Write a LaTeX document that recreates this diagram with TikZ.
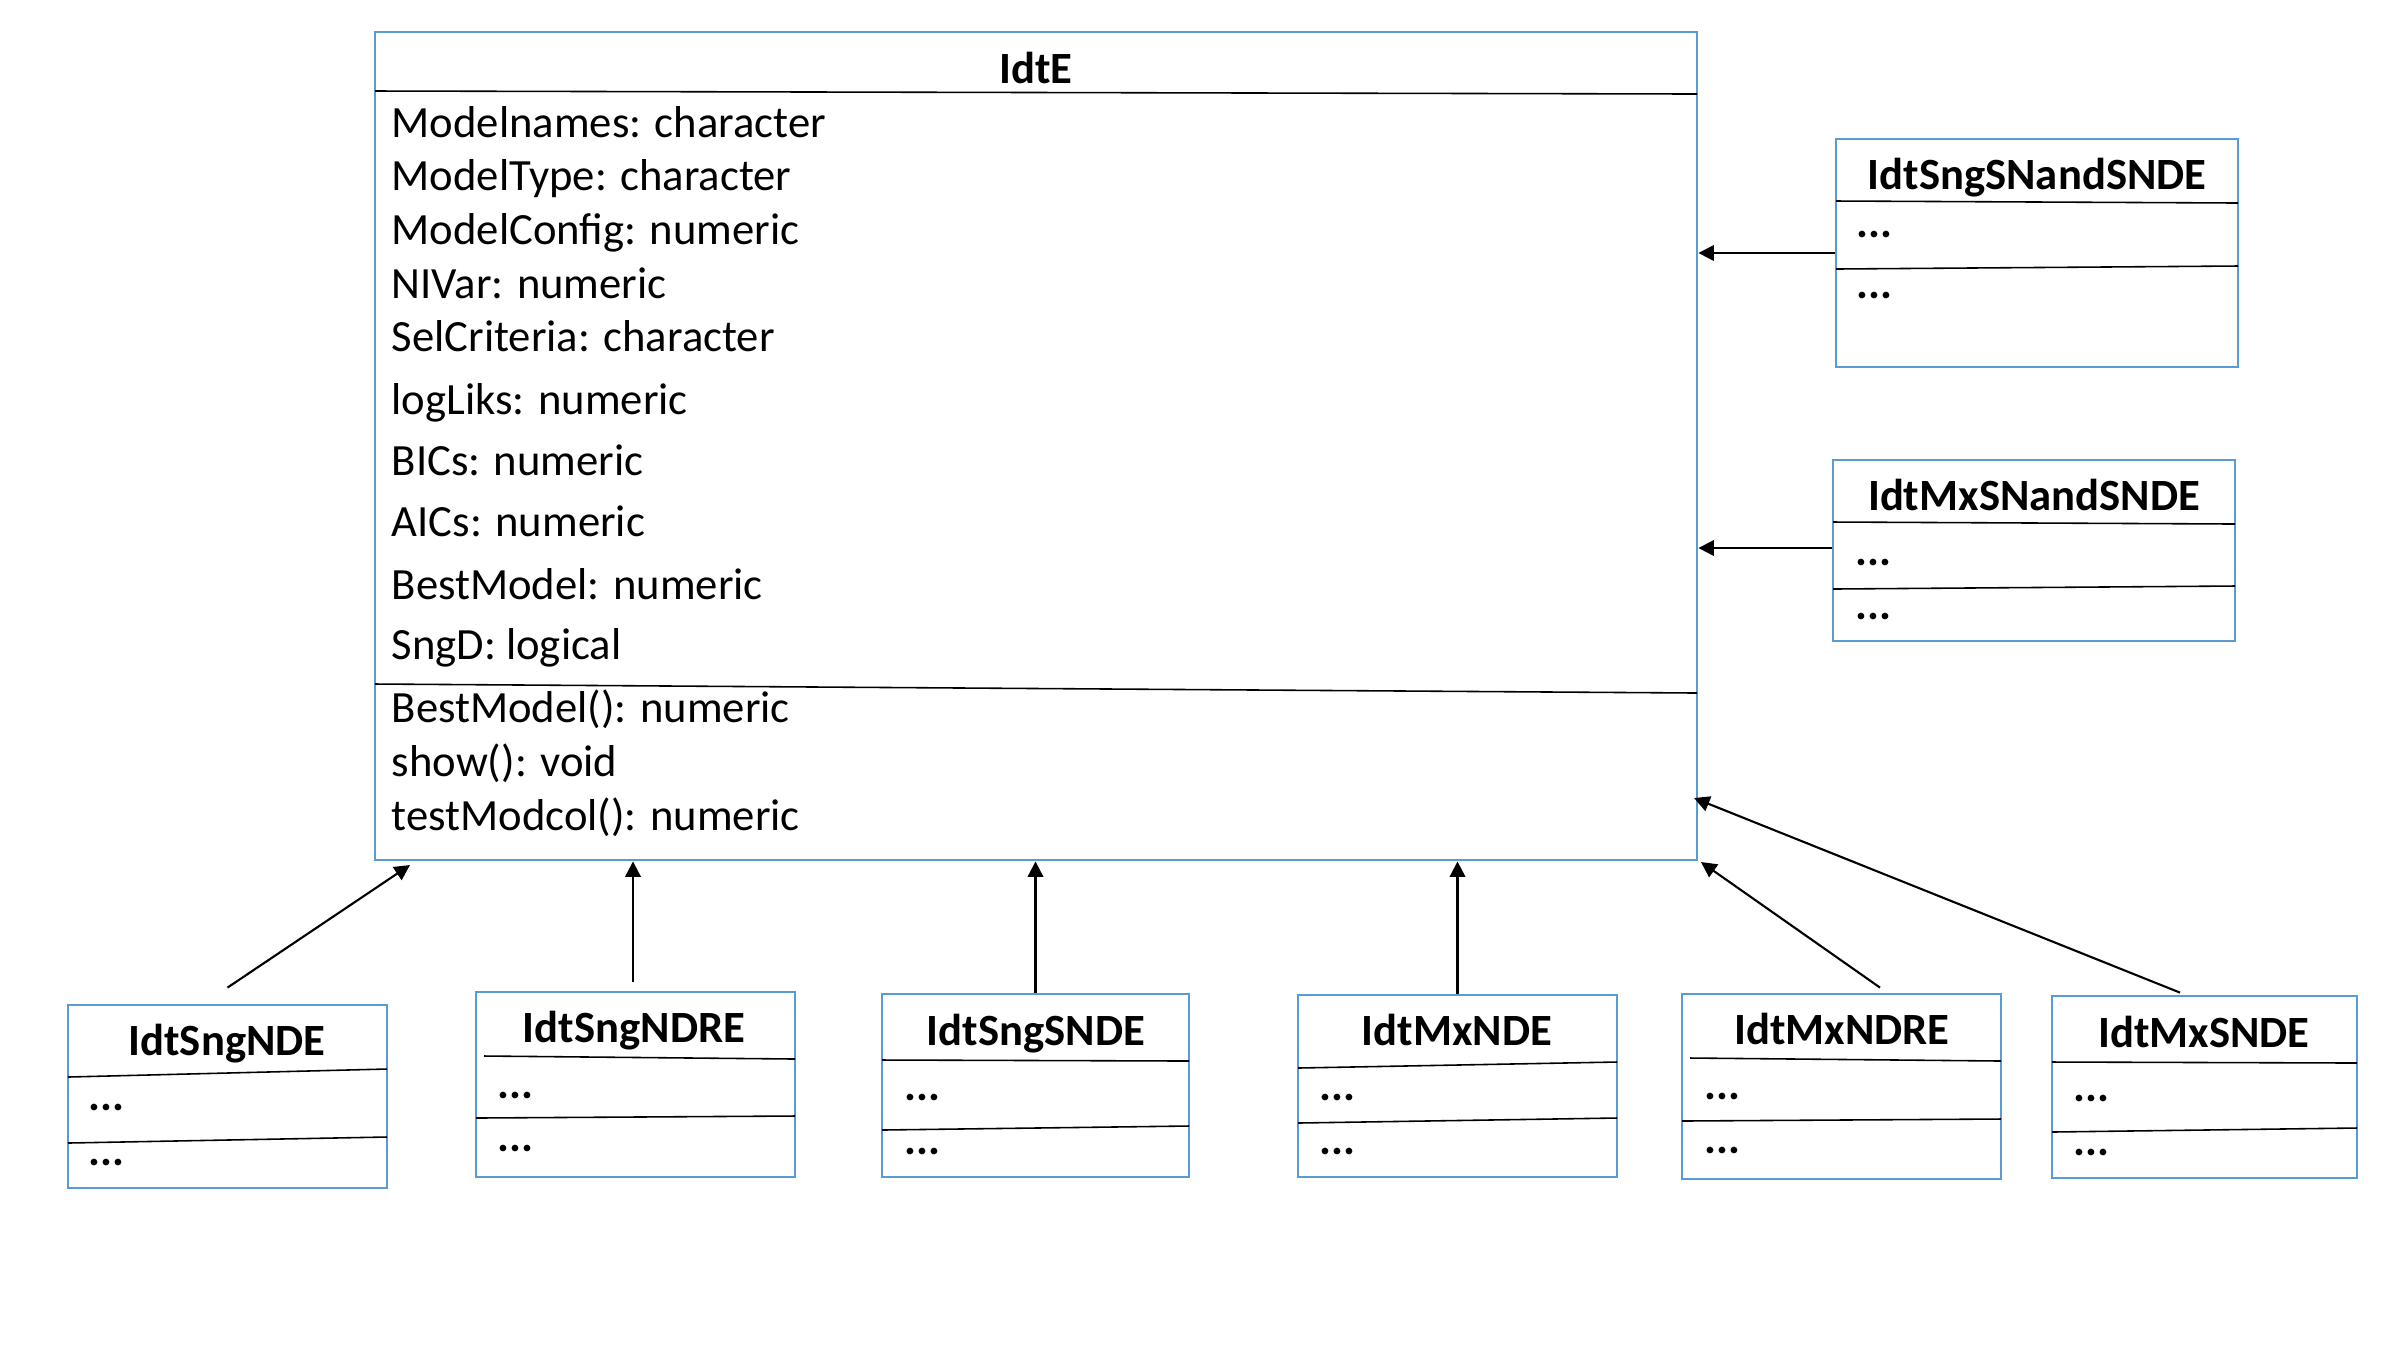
\documentclass[tikz,border=0pt]{standalone}
\usepackage{fontspec}
\setmainfont{Carlito}
\usetikzlibrary{arrows.meta,fit}
\definecolor{boxblue}{HTML}{5B9BD5}
\begin{document}
\begin{tikzpicture}[x=0.01cm,y=-0.01cm,
  cls/.style={draw=boxblue, line width=0.8pt, inner sep=0pt, rectangle},
  ttl/.style={anchor=base, inner sep=0pt, font=\fontsize{12.7}{15}\selectfont\bfseries},
  attr/.style={anchor=base west, inner sep=0pt, font=\fontsize{12.7}{15}\selectfont},
  dotsn/.style={anchor=base west, inner sep=0pt, font=\fontsize{12.7}{15}\selectfont\bfseries},
  sep/.style={draw=black, line width=0.45pt},
  arr/.style={draw=black, line width=0.6pt, -{Triangle[length=4.4pt,width=4.4pt]}}]
\useasboundingbox[fill=white] (0,0) rectangle (2400,1350);

% ---------- main class IdtE ----------
\node[cls, fit={(375,32) (1697,860)}] (idte) {};
\node[ttl] (idte-t) at (1036,83) {IdtE};
\draw[sep] (375,91) -- (1697,94);
\node[attr] (a1) at (391,137) {Modelnames: character};
\node[attr] (a2) at (391,190) {ModelType: character};
\node[attr] (a3) at (391,244) {ModelConfig: numeric};
\node[attr] (a4) at (391,298) {NIVar: numeric};
\node[attr] (a5) at (391,351) {SelCriteria: character};
\node[attr] (a6) at (391,414) {logLiks: numeric};
\node[attr] (a7) at (391,475) {BICs: numeric};
\node[attr] (a8) at (391,536) {AICs: numeric};
\node[attr] (a9) at (391,599) {BestModel: numeric};
\node[attr] (a10) at (391,659) {SngD: logical};
\draw[sep] (375,684) -- (1697,693);
\node[attr] (m1) at (391,722) {BestModel(): numeric};
\node[attr] (m2) at (391,776) {show(): void};
\node[attr] (m3) at (391,830) {testModcol(): numeric};

% ---------- right classes ----------
\node[cls, fit={(1836,139) (2238,367)}] (sngsn) {};
\node[ttl] (sngsn-t) at (2037,189) {IdtSngSNandSNDE};
\draw[sep] (1836,201) -- (2238,203);
\draw[sep] (1836,269) -- (2238,266);
\node[dotsn] (sngsn-d1) at (1856,237) {...};
\node[dotsn] (sngsn-d2) at (1856,298) {...};

\node[cls, fit={(1833,460) (2235,641)}] (mxsn) {};
\node[ttl] (mxsn-t) at (2034,510) {IdtMxSNandSNDE};
\draw[sep] (1833,522) -- (2235,524);
\draw[sep] (1833,589) -- (2235,586);
\node[dotsn] (mxsn-d1) at (1855,565) {...};
\node[dotsn] (mxsn-d2) at (1855,619) {...};

% ---------- bottom classes ----------
\node[cls, fit={(68,1005) (387,1188)}] (sngnde) {};
\node[ttl] (sngnde-t) at (227,1055) {IdtSngNDE};
\draw[sep] (68,1077) -- (387,1069);
\draw[sep] (68,1143) -- (387,1137);
\node[dotsn] (sngnde-d1) at (88,1110) {...};
\node[dotsn] (sngnde-d2) at (88,1165) {...};

\node[cls, fit={(476,992) (795,1177)}] (sngndre) {};
\node[ttl] (sngndre-t) at (634,1042) {IdtSngNDRE};
\draw[sep] (484,1056) -- (795,1059);
\draw[sep] (476,1118) -- (795,1116);
\node[dotsn] (sngndre-d1) at (497,1098) {...};
\node[dotsn] (sngndre-d2) at (497,1151) {...};

\node[cls, fit={(882,994) (1189,1177)}] (sngsnde) {};
\node[ttl] (sngsnde-t) at (1036,1045) {IdtSngSNDE};
\draw[sep] (882,1060) -- (1189,1061);
\draw[sep] (882,1130) -- (1189,1126);
\node[dotsn] (sngsnde-d1) at (904,1100) {...};
\node[dotsn] (sngsnde-d2) at (904,1154) {...};

\node[cls, fit={(1298,995) (1617,1177)}] (mxnde) {};
\node[ttl] (mxnde-t) at (1457,1045) {IdtMxNDE};
\draw[sep] (1298,1068) -- (1617,1062);
\draw[sep] (1298,1123) -- (1617,1118);
\node[dotsn] (mxnde-d1) at (1319,1100) {...};
\node[dotsn] (mxnde-d2) at (1319,1154) {...};

\node[cls, fit={(1682,994) (2001,1179)}] (mxndre) {};
\node[ttl] (mxndre-t) at (1842,1044) {IdtMxNDRE};
\draw[sep] (1690,1058) -- (2001,1061);
\draw[sep] (1682,1121) -- (2001,1119);
\node[dotsn] (mxndre-d1) at (1704,1099) {...};
\node[dotsn] (mxndre-d2) at (1704,1153) {...};

\node[cls, fit={(2052,996) (2357,1178)}] (mxsnde) {};
\node[ttl] (mxsnde-t) at (2204,1047) {IdtMxSNDE};
\draw[sep] (2052,1062) -- (2357,1063);
\draw[sep] (2052,1132) -- (2357,1128);
\node[dotsn] (mxsnde-d1) at (2073,1101) {...};
\node[dotsn] (mxsnde-d2) at (2073,1155) {...};

% ---------- connectors ----------
\coordinate (t-sngnde) at (410,865);
\coordinate (t-mxndre) at (1701,862);
\coordinate (t-mxsnde) at (1694,798);

\draw[arr] (sngsn.west) -- (sngsn.west -| idte.east);
\draw[arr] ([yshift=0.025cm]mxsn.west) -- ([yshift=0.025cm]mxsn.west -| idte.east);
\draw[arr] ([yshift=0.16cm]sngnde.north) -- (t-sngnde);
\draw[arr] ([xshift=-0.025cm,yshift=0.09cm]sngndre.north) -- ([xshift=-0.025cm]sngndre.north |- idte.south);
\draw[arr] (sngsnde.north) -- (sngsnde.north |- idte.south);
\draw[arr] (mxnde.north) -- (mxnde.north |- idte.south);
\draw[arr] ([xshift=0.385cm,yshift=0.05cm]mxndre.north) -- (t-mxndre);
\draw[arr] ([xshift=-0.245cm,yshift=0.02cm]mxsnde.north) -- (t-mxsnde);
\end{tikzpicture}
\end{document}
